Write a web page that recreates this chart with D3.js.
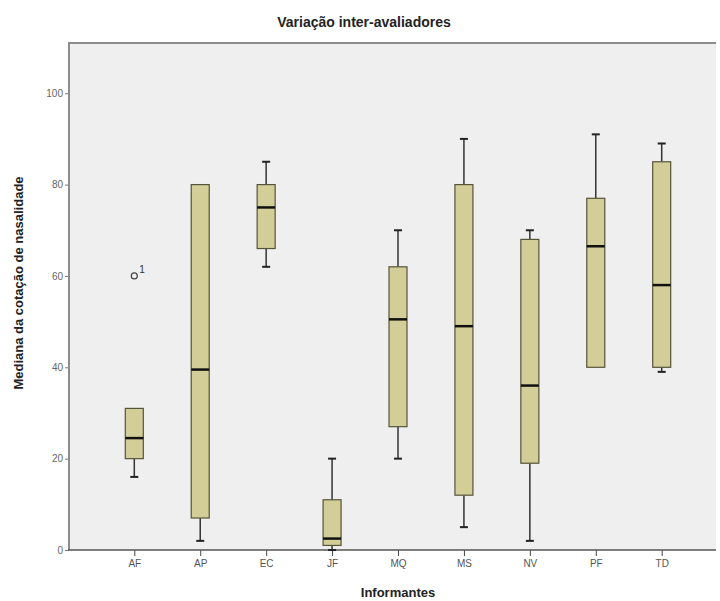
<!DOCTYPE html>
<html>
<head>
<meta charset="utf-8">
<script src="https://cdn.jsdelivr.net/npm/d3@7"></script>
<style>
  html, body { margin: 0; padding: 0; background: #ffffff; }
  svg { display: block; }
  text { font-family: "Liberation Sans", Arial, sans-serif; }
</style>
</head>
<body>
<svg id="chart" width="720" height="601"></svg>
<script>
// Informants and the five-number summary of each box
const categories = ["AF", "AP", "EC", "JF", "MQ", "MS", "NV", "PF", "TD"];
const whiskerLow  = [16, 2, 62, 0, 20, 5, 2, 40, 39];
const quartile1   = [20, 7, 66, 1, 27, 12, 19, 40, 40];
const medians     = [24.5, 39.5, 75, 2.5, 50.5, 49, 36, 66.5, 58];
const quartile3   = [31, 80, 80, 11, 62, 80, 68, 77, 85];
const whiskerHigh = [31, 80, 85, 20, 70, 90, 70, 91, 89];
// Outlying cases: informant, value, case label
const outliers = [{ cat: "AF", value: 60, label: "1" }];
const yTicks = [0, 20, 40, 60, 80, 100];

const svg = d3.select("#chart");
const frame = { left: 69, right: 716, top: 43, bottom: 550 };

const x = d3.scalePoint()
  .domain(categories)
  .range([134.3, 661.7]);

const y = d3.scaleLinear()
  .domain([0, 111])
  .range([frame.bottom, frame.top]);

// Plot area
svg.append("rect")
  .attr("x", frame.left).attr("y", frame.top)
  .attr("width", frame.right - frame.left)
  .attr("height", frame.bottom - frame.top)
  .attr("fill", "#efefef");

// Top border
svg.append("line")
  .attr("x1", frame.left).attr("x2", frame.right)
  .attr("y1", frame.top).attr("y2", frame.top)
  .attr("stroke", "#8c8c8c").attr("stroke-width", 2);

// Y axis
const yAxis = svg.append("g")
  .attr("transform", `translate(${frame.left},0)`)
  .call(d3.axisLeft(y).tickValues(yTicks).tickSize(4).tickPadding(2).tickFormat(d3.format("d")));
yAxis.select(".domain").remove();
yAxis.selectAll(".tick line").attr("stroke", "#777");
yAxis.selectAll(".tick text").attr("fill", "#666").style("font-size", "10px");
svg.append("line")
  .attr("x1", frame.left).attr("x2", frame.left)
  .attr("y1", frame.top - 1).attr("y2", frame.bottom)
  .attr("stroke", "#8c8c8c").attr("stroke-width", 2);

// X axis
const xAxis = svg.append("g")
  .attr("transform", `translate(0,${frame.bottom})`)
  .call(d3.axisBottom(x).tickSize(6).tickPadding(4));
xAxis.select(".domain").remove();
xAxis.selectAll(".tick line").attr("stroke", "#444");
xAxis.selectAll(".tick text").attr("fill", "#555").style("font-size", "10px");
svg.append("line")
  .attr("x1", frame.left - 1).attr("x2", frame.right)
  .attr("y1", frame.bottom).attr("y2", frame.bottom)
  .attr("stroke", "#555").attr("stroke-width", 1.5);

// Boxes
const boxW = 18, capW = 8;
const rows = categories.map((c, i) => ({
  cat: c, lo: whiskerLow[i], q1: quartile1[i], med: medians[i], q3: quartile3[i], hi: whiskerHigh[i]
}));

const g = svg.append("g");
const box = g.selectAll("g.box").data(rows).join("g").attr("class", "box");

// Whiskers
box.append("line")
  .attr("x1", d => x(d.cat)).attr("x2", d => x(d.cat))
  .attr("y1", d => y(d.hi)).attr("y2", d => y(d.q3))
  .attr("stroke", "#333").attr("stroke-width", 1.5);
box.append("line")
  .attr("x1", d => x(d.cat)).attr("x2", d => x(d.cat))
  .attr("y1", d => y(d.q1)).attr("y2", d => y(d.lo))
  .attr("stroke", "#333").attr("stroke-width", 1.5);
box.filter(d => d.hi > d.q3).append("line")
  .attr("x1", d => x(d.cat) - capW / 2).attr("x2", d => x(d.cat) + capW / 2)
  .attr("y1", d => y(d.hi)).attr("y2", d => y(d.hi))
  .attr("stroke", "#222").attr("stroke-width", 2);
box.filter(d => d.lo < d.q1).append("line")
  .attr("x1", d => x(d.cat) - capW / 2).attr("x2", d => x(d.cat) + capW / 2)
  .attr("y1", d => y(d.lo)).attr("y2", d => y(d.lo))
  .attr("stroke", "#222").attr("stroke-width", 2);

// Interquartile box
box.append("rect")
  .attr("x", d => x(d.cat) - boxW / 2)
  .attr("y", d => y(d.q3))
  .attr("width", boxW)
  .attr("height", d => y(d.q1) - y(d.q3))
  .attr("fill", "#d3ce97")
  .attr("stroke", "#55543a").attr("stroke-width", 1.2);

// Median
box.append("line")
  .attr("x1", d => x(d.cat) - boxW / 2).attr("x2", d => x(d.cat) + boxW / 2)
  .attr("y1", d => y(d.med)).attr("y2", d => y(d.med))
  .attr("stroke", "#111").attr("stroke-width", 2.5);

// Outliers
const out = g.selectAll("g.out").data(outliers).join("g").attr("class", "out");
out.append("circle")
  .attr("cx", d => x(d.cat)).attr("cy", d => y(d.value))
  .attr("r", 3)
  .attr("fill", "none").attr("stroke", "#444").attr("stroke-width", 1.2);
out.append("text")
  .attr("x", d => x(d.cat) + 5).attr("y", d => y(d.value) - 3)
  .attr("fill", "#333").style("font-size", "10px")
  .text(d => d.label);

// Titles
svg.append("text")
  .attr("x", 364).attr("y", 27)
  .attr("text-anchor", "middle")
  .attr("fill", "#222").style("font-size", "14px").style("font-weight", "bold")
  .text("Variação inter-avaliadores");

svg.append("text")
  .attr("x", 398).attr("y", 597)
  .attr("text-anchor", "middle")
  .attr("fill", "#222").style("font-size", "13px").style("font-weight", "bold")
  .text("Informantes");

svg.append("text")
  .attr("transform", "translate(23,283) rotate(-90)")
  .attr("text-anchor", "middle")
  .attr("fill", "#222").style("font-size", "13px").style("font-weight", "bold")
  .text("Mediana da cotação de nasalidade");
</script>
</body>
</html>
